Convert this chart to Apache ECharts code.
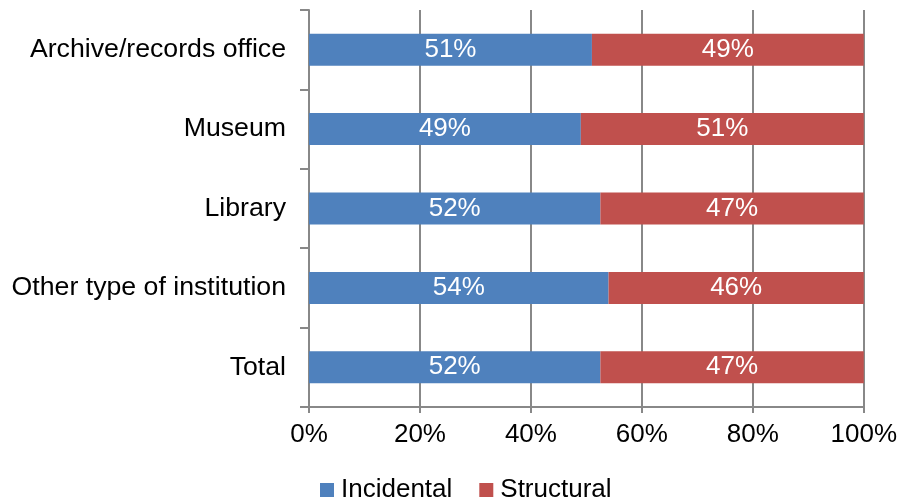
<!DOCTYPE html>
<html>
<head>
<meta charset="utf-8">
<script src="https://cdn.jsdelivr.net/npm/echarts@6/dist/echarts.min.js"></script>
<style>html,body{margin:0;padding:0;background:#fff}#c{width:900px;height:502px}</style>
</head>
<body>
<div id="c"></div>
<script>
const categories = ["Archive/records office", "Museum", "Library", "Other type of institution", "Total"];
const incidental = [51, 49, 52, 54, 52];
const structural = [49, 51, 47, 46, 47];
const xTicks = [0, 20, 40, 60, 80, 100];

const totals = incidental.map((v, i) => v + structural[i]);
function toShare(arr) {
  return arr.map((v, i) => ({ value: v / totals[i] * 100, raw: v }));
}
const FONT = "'Liberation Sans', Arial, sans-serif";
const FS = 26;
const chart = echarts.init(document.getElementById('c'), null, { renderer: 'canvas' });
const labelCfg = {
  show: true, position: 'inside', color: '#fff', fontSize: FS, fontFamily: FONT,
  formatter: p => p.data.raw + '%'
};
chart.setOption({
  animation: false,
  textStyle: { fontFamily: FONT },
  grid: { left: 309, right: 36, top: 10, bottom: 95 },
  legend: {
    top: 472, left: 315,
    itemWidth: 14, itemHeight: 14, itemGap: 27,
    icon: 'rect',
    textStyle: { fontSize: FS, color: '#000', fontFamily: FONT, padding: [0, 0, 0, 2] },
    data: ['Incidental', 'Structural']
  },
  xAxis: {
    type: 'value', min: 0, max: 100, interval: 20,
    axisLine: { show: true, lineStyle: { color: '#888888', width: 2 } },
    axisTick: { show: true, length: 6, lineStyle: { color: '#888888', width: 2 } },
    splitLine: { show: true, lineStyle: { color: '#888888', width: 2 } },
    axisLabel: { fontSize: FS, color: '#000', margin: 15, fontFamily: FONT,
      formatter: v => xTicks.includes(v) ? v + '%' : '' }
  },
  yAxis: {
    type: 'category', inverse: true, data: categories,
    axisLine: { show: true, lineStyle: { color: '#888888', width: 2 } },
    axisTick: { show: true, length: 9, lineStyle: { color: '#888888', width: 2 } },
    axisLabel: { fontSize: 26.7, color: '#000', margin: 23, fontFamily: FONT }
  },
  series: [
    { name: 'Incidental', type: 'bar', stack: 'a', barWidth: 32,
      itemStyle: { color: '#4F81BD' }, label: labelCfg, data: toShare(incidental) },
    { name: 'Structural', type: 'bar', stack: 'a', barWidth: 32,
      itemStyle: { color: '#C0504D' }, label: labelCfg, data: toShare(structural) }
  ]
});
</script>
</body>
</html>
